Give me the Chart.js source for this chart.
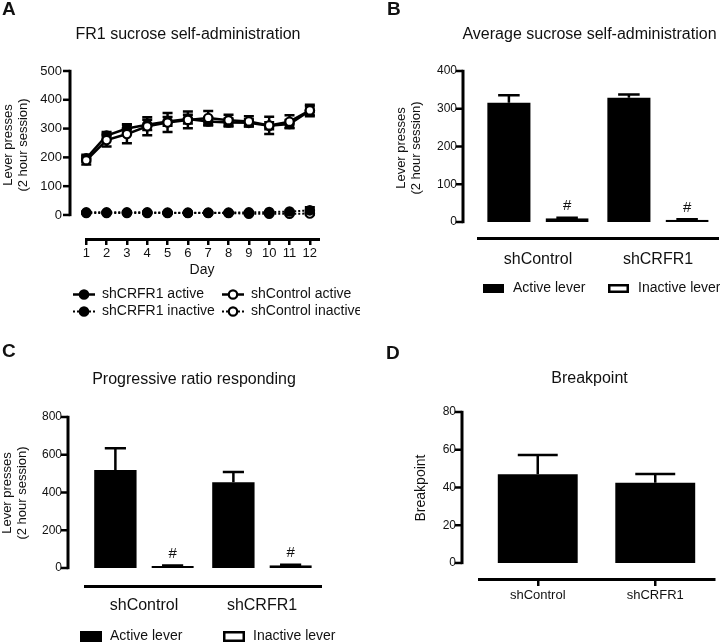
<!DOCTYPE html>
<html>
<head>
<meta charset="utf-8">
<script src="https://cdn.jsdelivr.net/npm/chart.js@4.4.1/dist/chart.umd.min.js"></script>
<style>
  body { margin: 0; background: #fff; }
  #figure { position: relative; width: 720px; height: 644px; }
  #figure canvas { position: absolute; }
</style>
</head>
<body>
<div id="figure">
  <canvas id="panelA" width="360" height="330" style="left:0;top:0"></canvas>
  <canvas id="panelB" width="360" height="330" style="left:360px;top:0"></canvas>
  <canvas id="panelC" width="360" height="314" style="left:0;top:330px"></canvas>
  <canvas id="panelD" width="360" height="314" style="left:360px;top:330px"></canvas>
</div>
<script>
// Data

// A - FR1 sucrose self-administration
const days = [1, 2, 3, 4, 5, 6, 7, 8, 9, 10, 11, 12];
const crfActive = [197, 276, 300, 313, 325, 333, 325, 321, 320, 310, 316, 362];
const crfActiveErr = [12, 12, 15, 18, 15, 15, 14, 14, 12, 12, 14, 15];
const ctlActive = [190, 260, 281, 308, 321, 330, 337, 329, 325, 311, 324, 363];
const ctlActiveErr = [15, 22, 32, 31, 33, 29, 24, 19, 18, 30, 22, 20];
const crfInactive = [9, 9, 9, 9, 8, 8, 8, 8, 9, 10, 12, 16];
const crfInactiveErr = [2, 2, 2, 2, 2, 2, 2, 2, 2, 3, 3, 11];
const ctlInactive = [7, 7, 7, 7, 7, 7, 7, 7, 4, 4, 4, 5];
const ctlInactiveErr = [2, 2, 2, 2, 2, 2, 2, 2, 2, 2, 2, 3];
const ticksA = [0, 100, 200, 300, 400, 500];

// B - Average sucrose self-administration
const groups = ["shControl", "shCRFR1"];
const avgActive = [316, 329];
const avgActiveErr = [20, 9];
const avgInactive = [10, 6];
const avgInactiveErr = [1, 1];
const marksB = ["#", "#"];
const ticksB = [0, 100, 200, 300, 400];

// C - Progressive ratio responding
const prActive = [519, 454];
const prActiveErr = [115, 55];
const prInactive = [11, 15];
const prInactiveErr = [2, 2];
const marksC = ["#", "#"];
const ticksC = [0, 200, 400, 600, 800];

// D - Breakpoint
const breakpoint = [47, 42.5];
const breakpointErr = [10.2, 4.6];
const ticksD = [0, 20, 40, 60, 80];

// Style

const INK = "#111";
const FONT = "'Liberation Sans', Arial, Helvetica, sans-serif";
Chart.defaults.font.family = FONT;
Chart.defaults.color = INK;

function font(size, bold) {
    return (bold ? "bold " : "") + size + "px " + FONT;
}

// Prism-like extras: error bars, detached axes, texts, legends

const prism = {
    id: "prism",
    beforeDatasetsDraw(chart) {
        const ctx = chart.ctx;
        const ys = chart.scales.y;
        chart.data.datasets.forEach((ds, i) => {
            if (!ds.errorBars) return;
            const meta = chart.getDatasetMeta(i);
            ctx.save();
            ctx.strokeStyle = "#000";
            ctx.lineWidth = 2.5;
            meta.data.forEach((el, j) => {
                const raw = ds.data[j];
                const v = typeof raw === "object" ? raw.y : raw;
                const e = ds.errorBars[j];
                const top = ys.getPixelForValue(v + e);
                const bottom = ds.errorBoth ? ys.getPixelForValue(v - e) : el.y;
                const half = ds.errorBoth ? 5 : el.width / 4;
                ctx.beginPath();
                ctx.moveTo(el.x, bottom);
                ctx.lineTo(el.x, top);
                ctx.moveTo(el.x - half, top);
                ctx.lineTo(el.x + half, top);
                if (ds.errorBoth) {
                    ctx.moveTo(el.x - half, bottom);
                    ctx.lineTo(el.x + half, bottom);
                }
                ctx.stroke();
            });
            ctx.restore();
        });
    },
    afterDraw(chart, args, opts) {
        const ctx = chart.ctx;
        const area = chart.chartArea;
        const ys = chart.scales.y;
        const xs = chart.scales.x;
        ctx.save();
        ctx.strokeStyle = "#000";

        // y axis line + ticks
        const ax = area.left - opts.yGap;
        const vals = ys.ticks.map(t => t.value);
        ctx.lineWidth = 3;
        ctx.beginPath();
        ctx.moveTo(ax, ys.getPixelForValue(vals[0]) + 1.2);
        ctx.lineTo(ax, ys.getPixelForValue(vals[vals.length - 1]) - 1.2);
        ctx.stroke();
        ctx.lineWidth = 2.5;
        vals.forEach(v => {
            const py = ys.getPixelForValue(v);
            ctx.beginPath();
            ctx.moveTo(ax - 7, py);
            ctx.lineTo(ax, py);
            ctx.stroke();
        });

        // detached x axis line (panel A)
        if (opts.xLineFrom !== undefined) {
            ctx.lineWidth = 3;
            ctx.beginPath();
            ctx.moveTo(xs.getPixelForValue(opts.xLineFrom) - 1.2, area.bottom + 1.5);
            ctx.lineTo(area.right, area.bottom + 1.5);
            ctx.stroke();
        }

        // significance marks above bars
        ctx.fillStyle = INK;
        ctx.textAlign = "center";
        ctx.textBaseline = "middle";
        chart.data.datasets.forEach((ds, i) => {
            if (!ds.marks) return;
            ctx.font = font(15);
            chart.getDatasetMeta(i).data.forEach((el, j) => {
                ctx.fillText(ds.marks[j], el.x, el.y - 12);
            });
        });

        // free texts: panel letter, title, axis titles
        (opts.texts || []).forEach(t => {
            ctx.font = font(t.size, t.bold);
            ctx.textAlign = t.align || "center";
            ctx.fillText(t.text, t.x, t.y);
        });
        if (opts.yTitle) {
            const yt = opts.yTitle;
            ctx.font = font(yt.size);
            ctx.textAlign = "center";
            yt.lines.forEach((line, k) => {
                ctx.save();
                ctx.translate(yt.x + k * yt.gap, yt.y);
                ctx.rotate(-Math.PI / 2);
                ctx.fillText(line, 0, 0);
                ctx.restore();
            });
        }

        // legend
        if (opts.legend) {
            const lg = opts.legend;
            lg.items.forEach(item => {
                const ds = chart.data.datasets[item.ds];
                ctx.save();
                if (lg.kind === "line") {
                    ctx.strokeStyle = "#000";
                    ctx.lineWidth = ds.borderWidth;
                    ctx.setLineDash(ds.borderDash || []);
                    ctx.beginPath();
                    ctx.moveTo(item.x, item.y);
                    ctx.lineTo(item.x + 22, item.y);
                    ctx.stroke();
                    ctx.setLineDash([]);
                    ctx.beginPath();
                    ctx.arc(item.x + 11, item.y, ds.pointRadius, 0, Math.PI * 2);
                    ctx.fillStyle = ds.pointBackgroundColor;
                    ctx.fill();
                    ctx.lineWidth = ds.pointBorderWidth;
                    ctx.stroke();
                } else {
                    ctx.fillStyle = ds.backgroundColor;
                    ctx.fillRect(item.x, item.y - lg.boxH / 2, lg.boxW, lg.boxH);
                    if (ds.borderWidth) {
                        ctx.strokeStyle = "#000";
                        ctx.lineWidth = 2.5;
                        ctx.strokeRect(item.x + 1.25, item.y - lg.boxH / 2 + 1.25, lg.boxW - 2.5, lg.boxH - 2.5);
                    }
                }
                ctx.restore();
                ctx.fillStyle = INK;
                ctx.font = font(14);
                ctx.textAlign = "left";
                ctx.fillText(ds.label, item.x + lg.textGap, item.y);
            });
        }
        ctx.restore();
    }
};

function yScale(min, max, tickVals, width, padding, size) {
    return {
        min: min,
        max: max,
        afterBuildTicks: s => { s.ticks = tickVals.map(v => ({ value: v })); },
        afterFit: s => { s.width = width; },
        grid: { display: false, drawTicks: false },
        border: { display: false },
        ticks: { padding: padding, font: { size: size }, color: INK }
    };
}

const base = {
    responsive: false,
    animation: false,
    devicePixelRatio: 1,
    events: [],
};

// Panel A

function pts(values) {
    return days.map((d, i) => ({ x: d, y: values[i] }));
}

function lineSet(label, values, err, filled, dotted, order) {
    return {
        label: label,
        data: pts(values),
        errorBars: err,
        errorBoth: true,
        borderColor: "#000",
        borderWidth: dotted ? 2 : 2.5,
        borderDash: dotted ? [2, 2] : [],
        pointRadius: 4.2,
        pointBackgroundColor: filled ? "#000" : "#fff",
        pointBorderColor: "#000",
        pointBorderWidth: 2.2,
        order: order
    };
}

const chartA = new Chart(document.getElementById("panelA"), {
    type: "line",
    data: {
        datasets: [
            lineSet("shControl active", ctlActive, ctlActiveErr, false, false, 0),
            lineSet("shCRFR1 active", crfActive, crfActiveErr, true, false, 1),
            lineSet("shCRFR1 inactive", crfInactive, crfInactiveErr, true, true, 2),
            lineSet("shControl inactive", ctlInactive, ctlInactiveErr, false, true, 3),
        ]
    },
    options: {
        ...base,
        layout: { padding: { top: 71, right: 40, bottom: 52, left: 0 } },
        scales: {
            x: {
                type: "linear",
                min: 0.2,
                max: 12.5,
                afterBuildTicks: s => { s.ticks = days.map(v => ({ value: v })); },
                afterFit: s => { s.height = 40; },
                grid: { display: true, drawOnChartArea: false, drawTicks: true, tickLength: 7, color: "#000", lineWidth: 2.5 },
                border: { display: false },
                ticks: { autoSkip: false, maxRotation: 0, padding: 1, font: { size: 13 }, color: INK }
            },
            y: yScale(-80, 500, ticksA, 70, 8, 13)
        },
        plugins: {
            legend: { display: false },
            tooltip: { enabled: false },
            prism: {
                yGap: 0,
                xLineFrom: 1,
                texts: [
                    { text: "A", x: 2, y: 10, size: 19, bold: true, align: "left" },
                    { text: "FR1 sucrose self-administration", x: 188, y: 35, size: 16 },
                    { text: "Day", x: 202, y: 270, size: 14 }
                ],
                yTitle: { lines: ["Lever presses", "(2 hour session)"], x: 8, y: 145, gap: 15, size: 13 },
                legend: {
                    kind: "line",
                    textGap: 29,
                    items: [
                        { ds: 1, x: 73, y: 294.5 },
                        { ds: 0, x: 222, y: 294.5 },
                        { ds: 2, x: 73, y: 311.5 },
                        { ds: 3, x: 222, y: 311.5 }
                    ]
                }
            }
        }
    },
    plugins: [prism]
});

// Bar panels

function barPanel(id, cfg) {
    return new Chart(document.getElementById(id), {
        type: "bar",
        data: { labels: groups, datasets: cfg.datasets },
        options: {
            ...base,
            layout: { padding: cfg.padding },
            datasets: { bar: { categoryPercentage: cfg.catPct, barPercentage: cfg.barPct } },
            scales: {
                x: {
                    afterFit: s => { s.height = cfg.xHeight; },
                    grid: cfg.xTicks
                        ? { display: true, offset: false, drawOnChartArea: false, drawTicks: true, tickLength: 7, color: "#000", lineWidth: 2.5 }
                        : { display: false, drawTicks: false },
                    border: { display: true, width: 3, color: "#000" },
                    ticks: { padding: cfg.xPad, font: { size: cfg.xFont }, color: INK }
                },
                y: cfg.y
            },
            plugins: {
                legend: { display: false },
                tooltip: { enabled: false },
                prism: cfg.prism
            }
        },
        plugins: [prism]
    });
}

function active(data, err) {
    return {
        label: "Active lever",
        data: data,
        errorBars: err,
        backgroundColor: "#000",
        borderWidth: 0
    };
}

function inactive(data, err, marks) {
    return {
        label: "Inactive lever",
        data: data,
        errorBars: err,
        marks: marks,
        backgroundColor: "#fff",
        borderColor: "#000",
        borderWidth: 2.5,
        borderSkipped: false
    };
}

const chartB = barPanel("panelB", {
    datasets: [active(avgActive, avgActiveErr), inactive(avgInactive, avgInactiveErr, marksB)],
    padding: { top: 71, right: 2, bottom: 52, left: 0 },
    catPct: 0.97,
    barPct: 0.74,
    xHeight: 40,
    xPad: 12,
    xFont: 16,
    y: yScale(-42.4, 400, ticksB, 118, 21, 12),
    prism: {
        yGap: 15,
        texts: [
            { text: "B", x: 27, y: 10, size: 19, bold: true, align: "left" },
            { text: "Average sucrose self-administration", x: 229.5, y: 35, size: 16 }
        ],
        yTitle: { lines: ["Lever presses", "(2 hour session)"], x: 41, y: 148, gap: 15, size: 13 },
        legend: {
            kind: "box", boxW: 21, boxH: 9, textGap: 30,
            items: [{ ds: 0, x: 123, y: 288.5 }, { ds: 1, x: 248, y: 288.5 }]
        }
    }
});

const chartC = barPanel("panelC", {
    datasets: [active(prActive, prActiveErr), inactive(prInactive, prInactiveErr, marksC)],
    padding: { top: 87, right: 39, bottom: 23, left: 0 },
    catPct: 0.97,
    barPct: 0.74,
    xHeight: 35,
    xPad: 10,
    xFont: 16,
    y: yScale(-95.4, 800, ticksC, 85, 23, 12),
    prism: {
        yGap: 17,
        texts: [
            { text: "C", x: 2, y: 21.5, size: 19, bold: true, align: "left" },
            { text: "Progressive ratio responding", x: 194, y: 50, size: 16 }
        ],
        yTitle: { lines: ["Lever presses", "(2 hour session)"], x: 7, y: 163, gap: 15, size: 13 },
        legend: {
            kind: "box", boxW: 22, boxH: 11, textGap: 30,
            items: [{ ds: 0, x: 80, y: 306.5 }, { ds: 1, x: 223, y: 306.5 }]
        }
    }
});

const chartD = barPanel("panelD", {
    datasets: [{
        label: "Breakpoint",
        data: breakpoint,
        errorBars: breakpointErr,
        backgroundColor: "#000",
        borderWidth: 0
    }],
    padding: { top: 82, right: 6, bottom: 30, left: 0 },
    catPct: 0.8,
    barPct: 0.85,
    xHeight: 35,
    xTicks: true,
    xPad: 2,
    xFont: 13,
    y: yScale(-8.5, 80, ticksD, 119, 23, 12),
    prism: {
        yGap: 17,
        texts: [
            { text: "D", x: 26, y: 23.5, size: 19, bold: true, align: "left" },
            { text: "Breakpoint", x: 229.5, y: 49, size: 16 }
        ],
        yTitle: { lines: ["Breakpoint"], x: 61.5, y: 158, gap: 0, size: 14 }
    }
});
</script>
</body>
</html>
